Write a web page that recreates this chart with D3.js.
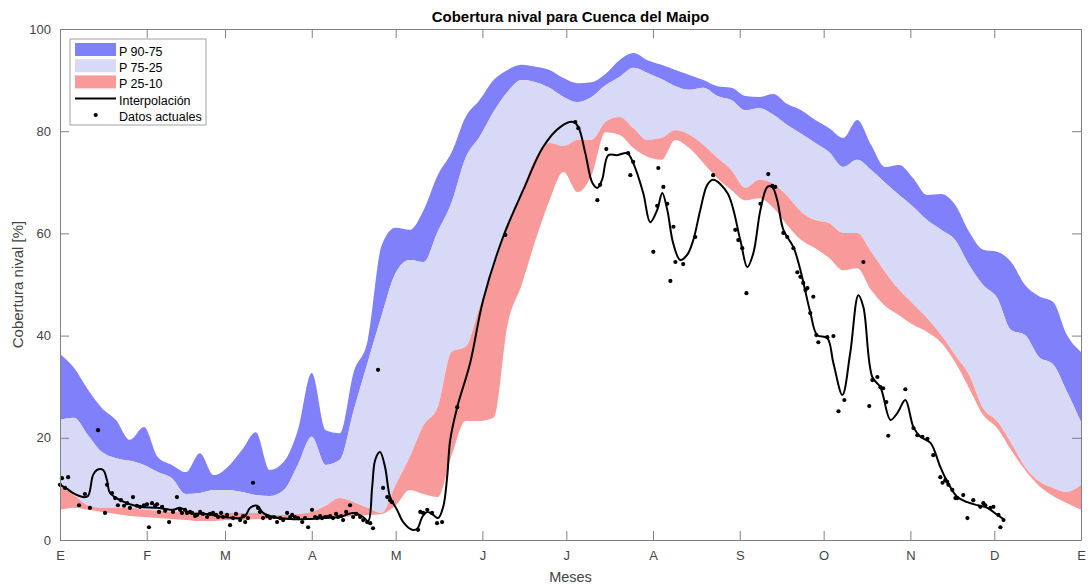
<!DOCTYPE html>
<html>
<head>
<meta charset="utf-8">
<script src="https://cdn.jsdelivr.net/npm/d3@7"></script>
<style>
  body { margin: 0; background: #fff; }
  svg { display: block; font-family: "Liberation Sans", Arial, sans-serif; }
</style>
</head>
<body>
<div id="chart"></div>
<script>
// eje x en dias del año (0 = 1 de enero)
const bandDays = [0,5,10,15,20,25,30,35,40,45,50,55,60,65,70,75,80,85,90,95,100,105,110,115,120,125,130,135,140,145,150,155,160,165,170,175,180,185,190,195,200,205,210,215,220,225,230,235,240,245,250,255,260,265,270,275,280,285,290,295,300,305,310,315,320,325,330,335,340,345,350,355,360,365];

const p90 = [36.4,33.7,29.4,25.8,23.5,19.6,22.1,16.2,14.7,13.3,17.0,12.7,14.3,17.6,21.1,13.7,15.3,21.5,32.7,21.5,20.9,32.9,39.1,57.7,61.1,60.7,64.6,71.4,75.9,82.8,86.1,90.0,92.0,93.0,92.6,92.0,90.4,89.4,89.6,91.2,93.9,95.3,93.9,93.0,92.0,91.0,90.0,88.8,88.5,86.9,86.7,87.3,85.3,84.1,82.2,80.6,78.7,82.2,77.3,73.0,73.4,70.8,67.5,67.7,65.6,60.3,56.8,56.4,54.4,49.9,47.7,46.6,40.1,36.8];

const p75 = [23.5,23.9,20.5,17.2,16.0,15.5,14.7,13.3,12.1,9.0,9.2,9.8,9.8,9.4,8.8,8.6,9.8,14.7,20.2,14.7,15.7,25.4,34.8,44.0,52.3,54.8,54.4,60.3,66.1,74.8,78.9,83.8,87.7,90.0,89.6,88.5,86.7,85.7,86.7,89.0,90.6,92.4,91.4,90.2,88.8,88.1,88.5,86.9,86.1,84.1,84.5,83.2,81.2,79.5,77.7,75.9,73.0,74.4,72.4,69.9,67.5,65.2,62.6,60.7,58.7,53.8,49.9,47.4,41.1,40.1,35.8,34.4,29.0,23.1];

const p25 = [10.8,8.8,6.8,6.3,6.3,6.3,5.9,5.7,5.5,5.5,5.3,5.3,5.3,5.3,5.3,4.9,4.9,5.1,5.5,6.7,8.2,7.4,6.3,5.3,10.8,16.2,22.5,26.0,36.8,37.8,45.6,53.2,61.6,68.1,74.8,77.7,77.1,78.3,78.3,81.8,82.8,80.6,78.3,78.7,80.2,79.3,77.3,74.8,72.4,68.9,70.5,69.7,67.3,64.2,62.6,62.0,60.1,60.1,56.4,52.4,48.9,46.2,43.4,40.1,36.2,32.3,25.8,23.3,19.0,14.3,11.5,10.2,9.4,10.8];

const p10 = [5.9,6.3,5.9,5.5,5.1,4.7,4.5,4.3,4.1,3.9,3.7,3.7,3.9,3.9,4.1,4.1,4.3,4.3,4.3,4.5,4.5,4.7,4.9,5.1,6.8,9.8,9.0,8.4,16.6,23.3,23.3,23.9,42.1,49.9,58.7,66.5,72.0,68.1,71.4,79.8,79.3,76.7,75.0,74.4,78.3,76.7,73.8,70.8,68.5,66.5,66.9,65.0,61.6,58.7,57.1,55.2,52.8,53.2,48.9,45.8,44.0,42.1,40.7,38.6,34.8,29.7,24.5,21.9,17.6,13.7,10.6,8.6,7.2,5.9];

// curva interpolada [dia, %]
const interpolacion = [[0,10.8],[2.1,10.2],[4.6,9.2],[8.2,8.4],[10.0,8.6],[11.8,12.7],[13.2,13.7],[15.4,13.7],[16.8,11.7],[17.9,9.2],[21.5,7.8],[25.0,7.0],[28.6,6.5],[34.7,6.3],[40.4,5.9],[42.9,6.3],[46.5,5.3],[52.6,5.1],[58.3,4.5],[64.4,4.3],[66.2,4.7],[68.0,6.3],[70.5,6.7],[72.6,5.3],[76.2,4.5],[82.3,4.1],[88.3,4.1],[94.1,4.3],[100.1,4.5],[104.8,5.3],[108.4,4.5],[110.2,3.7],[111.6,10.4],[112.7,15.7],[114.4,17.2],[116.2,14.3],[118.0,8.4],[120.5,5.9],[122.7,3.5],[125.9,2.0],[127.7,2.2],[129.5,4.5],[131.3,5.5],[133.4,4.9],[135.2,4.3],[137.0,6.5],[138.4,12.3],[139.5,19.6],[142.0,26.0],[146.6,34.6],[151.3,47.0],[158.4,59.3],[165.6,68.5],[172.7,76.9],[178.8,80.8],[183.5,81.8],[185.3,80.8],[187.8,75.7],[190.3,69.9],[192.1,68.9],[193.8,70.5],[196.0,75.3],[199.2,75.3],[202.8,75.7],[204.9,73.8],[208.5,67.9],[211.0,62.2],[213.5,64.6],[215.3,67.9],[217.1,64.6],[219.2,58.1],[221.7,54.8],[224.2,55.8],[226.4,58.7],[228.9,64.6],[231.4,69.5],[233.5,70.5],[238.6,67.9],[243.2,58.7],[245.7,53.4],[247.9,56.2],[250.4,64.6],[252.9,69.1],[254.6,69.1],[256.4,66.5],[258.6,60.7],[262.2,57.3],[264.7,52.8],[268.2,44.6],[270.7,40.1],[274.3,39.5],[276.5,34.6],[279.7,28.4],[282.5,36.6],[285.4,47.9],[287.2,45.6],[290.4,31.9],[293.3,29.9],[296.9,23.5],[299.4,24.9],[302.2,27.4],[305.1,22.1],[307.6,20.2],[311.2,19.0],[314.7,14.3],[317.2,11.4],[320.8,8.4],[324.4,7.4],[328.0,6.8],[331.5,6.3],[335.1,4.9],[337.3,4.1]];

// datos actuales [dia, %]
const datos = [[0,10.8],[0.7,12.1],[1.8,10.2],[2.9,12.3],[6.8,6.8],[8.9,9.0],[10.7,6.3],[13.6,21.5],[16.1,5.3],[16.8,10.8],[18.6,9.2],[19.7,8.2],[20.7,6.8],[21.8,7.8],[22.9,6.7],[24.0,7.2],[25.0,6.3],[26.1,8.4],[27.5,6.7],[28.6,6.5],[30.0,6.8],[31.1,7.0],[31.8,2.5],[32.9,7.2],[34.0,6.7],[34.7,7.0],[35.4,5.5],[36.5,6.5],[37.6,5.7],[39.0,3.5],[40.4,5.5],[41.8,8.4],[42.9,5.9],[43.6,5.3],[44.7,5.9],[45.4,5.3],[46.5,5.5],[47.2,5.3],[48.3,4.7],[49.0,4.9],[50.1,5.5],[51.1,5.1],[52.6,4.5],[53.6,5.1],[54.7,5.3],[55.8,4.9],[56.5,4.5],[57.6,5.3],[58.3,4.5],[59.7,4.9],[60.8,2.9],[61.9,4.3],[62.9,5.1],[64.4,3.9],[65.5,4.7],[66.2,3.5],[67.2,4.3],[69.0,11.2],[70.8,6.3],[71.5,5.5],[72.6,4.3],[74.0,4.7],[75.1,4.3],[76.5,4.5],[77.6,3.5],[78.7,4.3],[79.8,3.9],[81.2,5.3],[82.3,4.5],[83.0,4.9],[84.0,4.5],[85.1,4.3],[86.6,3.5],[87.6,4.3],[88.7,2.5],[90.1,5.9],[91.2,4.5],[91.9,4.3],[93.0,4.7],[93.7,4.3],[94.8,4.5],[95.5,4.5],[96.6,4.7],[97.6,4.3],[98.7,5.1],[99.4,4.5],[100.5,4.7],[101.2,3.9],[102.3,5.5],[103.7,6.8],[104.8,4.5],[105.9,5.1],[107.3,4.5],[108.4,3.9],[109.8,3.5],[110.9,3.3],[111.9,2.3],[113.7,33.3],[115.5,10.2],[117.0,8.4],[118.0,7.8],[118.7,7.4],[128.0,2.0],[128.8,5.5],[129.8,5.3],[131.3,5.9],[133.0,5.3],[134.8,3.3],[136.6,3.5],[142.0,26.0],[159.2,59.7],
  [184.2,81.8],[185.3,80.6],[192.1,66.5],[193.1,69.5],[195.3,76.5],[203.1,75.7],[203.9,71.4],[204.9,74.0],[212.1,56.4],[213.5,65.4],[213.9,72.8],[215.7,69.1],[217.1,65.8],[218.2,50.7],[219.3,61.3],[220.0,54.4],[222.8,54.0],[227.1,59.3],[233.5,71.4],[241.4,60.7],[242.5,58.7],[243.9,57.1],[245.4,48.3],[250.4,65.8],[253.2,71.6],[254.6,69.3],[255.7,69.1],[258.6,60.1],[260.0,59.3],[262.2,57.1],[263.6,52.4],[264.7,51.5],[265.7,50.3],[266.5,48.9],[267.2,49.3],[268.2,44.4],[269.3,47.6],[270.4,40.1],[271.1,38.7],[274.3,39.7],[276.5,39.9],[278.3,25.2],[280.4,27.4],[287.2,54.4],[289.3,26.2],[290.4,31.3],[292.2,31.9],[293.3,29.9],[294.3,29.7],[295.4,27.0],[296.1,20.4],[302.2,29.5],[305.1,21.9],[306.5,20.5],[308.3,20.2],[310.1,19.8],[312.2,16.6],[314.7,12.3],[315.5,11.2],[316.5,11.7],[317.2,11.4],[317.6,10.8],[319.0,9.8],[320.1,8.2],[320.8,8.2],[322.9,8.8],[324.4,4.3],[326.5,7.8],[329.0,6.5],[330.1,7.2],[330.8,6.8],[332.6,6.3],[333.7,6.5],[335.5,4.9],[336.2,2.5],[337.3,3.9]];

const monthDays = [0,31,59,90,120,151,181,212,243,273,304,334,365];
const monthLabels = ["E","F","M","A","M","J","J","A","S","O","N","D","E"];
const yTicks = [0,20,40,60,80,100];

const W = 1091, H = 586;
const margin = { top: 29, right: 10, bottom: 46, left: 60 };
const width = W - margin.left - margin.right;
const height = H - margin.top - margin.bottom;

const svg = d3.select("#chart").append("svg")
  .attr("width", W).attr("height", H);
const g = svg.append("g").attr("transform", `translate(${margin.left},${margin.top})`);

const x = d3.scaleLinear().domain([0, 365]).range([0, width]);
const y = d3.scaleLinear().domain([0, 100]).range([height, 0]);

const rows = bandDays.map((d, i) => ({ d, p90: p90[i], p75: p75[i], p25: p25[i], p10: p10[i] }));

const bands = [
  { hi: "p90", lo: "p75", color: "#8080fa", label: "P 90-75" },
  { hi: "p75", lo: "p25", color: "#d8d8f7", label: "P 75-25" },
  { hi: "p25", lo: "p10", color: "#f99a9a", label: "P 25-10" }
];

bands.forEach(b => {
  const area = d3.area()
    .curve(d3.curveMonotoneX)
    .x(r => x(r.d))
    .y0(r => y(r[b.lo]))
    .y1(r => y(r[b.hi]));
  g.append("path").datum(rows)
    .attr("fill", b.color)
    .attr("d", area);
});

const line = d3.line()
  .curve(d3.curveCatmullRom.alpha(0.5))
  .x(p => x(p[0]))
  .y(p => y(p[1]));

g.append("path").datum(interpolacion)
  .attr("fill", "none")
  .attr("stroke", "#000")
  .attr("stroke-width", 2)
  .attr("d", line);

g.selectAll("circle.dato").data(datos).join("circle")
  .attr("class", "dato")
  .attr("cx", p => x(p[0]))
  .attr("cy", p => y(p[1]))
  .attr("r", 2.1)
  .attr("fill", "#000");

// ejes (caja estilo MATLAB, ticks hacia dentro)
const axisColor = "#808080";
const xAxis = d3.axisBottom(x).tickValues(monthDays)
  .tickFormat((d, i) => monthLabels[i])
  .tickSizeInner(-9).tickSizeOuter(0).tickPadding(11);
const yAxis = d3.axisLeft(y).tickValues(yTicks)
  .tickSizeInner(-9).tickSizeOuter(0).tickPadding(9);

const gx = g.append("g").attr("transform", `translate(0,${height})`).call(xAxis);
const gy = g.append("g").call(yAxis);
const gt = g.append("g").call(d3.axisTop(x).tickValues(monthDays).tickFormat("").tickSizeInner(-9).tickSizeOuter(0));
const gr = g.append("g").attr("transform", `translate(${width},0)`)
  .call(d3.axisRight(y).tickValues(yTicks).tickFormat("").tickSizeInner(-9).tickSizeOuter(0));

[gx, gy, gt, gr].forEach(a => {
  a.select(".domain").attr("stroke", axisColor);
  a.selectAll(".tick line").attr("stroke", axisColor);
  a.selectAll(".tick text").attr("fill", "#444").style("font-size", "13px")
    .style("font-family", "'Liberation Sans', Arial, sans-serif");
});

// titulos
svg.append("text")
  .attr("x", margin.left + width / 2).attr("y", 22)
  .attr("text-anchor", "middle")
  .style("font-size", "15px").style("font-weight", "bold").attr("fill", "#000")
  .text("Cobertura nival para Cuenca del Maipo");

svg.append("text")
  .attr("x", margin.left + width / 2).attr("y", 582)
  .attr("text-anchor", "middle")
  .style("font-size", "14.5px").attr("fill", "#444")
  .text("Meses");

svg.append("text")
  .attr("transform", `translate(23,${margin.top + height / 2}) rotate(-90)`)
  .attr("text-anchor", "middle")
  .style("font-size", "15px").attr("fill", "#444")
  .text("Cobertura nival [%]");

// leyenda
const lg = svg.append("g").attr("transform", "translate(70,39)");
lg.append("rect").attr("width", 136).attr("height", 86)
  .attr("fill", "#fff").attr("stroke", "#a0a0a0");

bands.forEach((b, i) => {
  lg.append("rect").attr("x", 5).attr("y", 4 + i * 16.2).attr("width", 41).attr("height", 13)
    .attr("fill", b.color);
});
lg.append("line").attr("x1", 5).attr("x2", 46).attr("y1", 59.5).attr("y2", 59.5)
  .attr("stroke", "#000").attr("stroke-width", 2);
lg.append("circle").attr("cx", 25.7).attr("cy", 76).attr("r", 2.1).attr("fill", "#000");

const legendLabels = [...bands.map(b => b.label), "Interpolación", "Datos actuales"];
legendLabels.forEach((t, i) => {
  lg.append("text").attr("x", 49).attr("y", 13 + i * 16.2 + 4)
    .style("font-size", "12.5px").attr("fill", "#000")
    .text(t);
});
</script>
</body>
</html>
